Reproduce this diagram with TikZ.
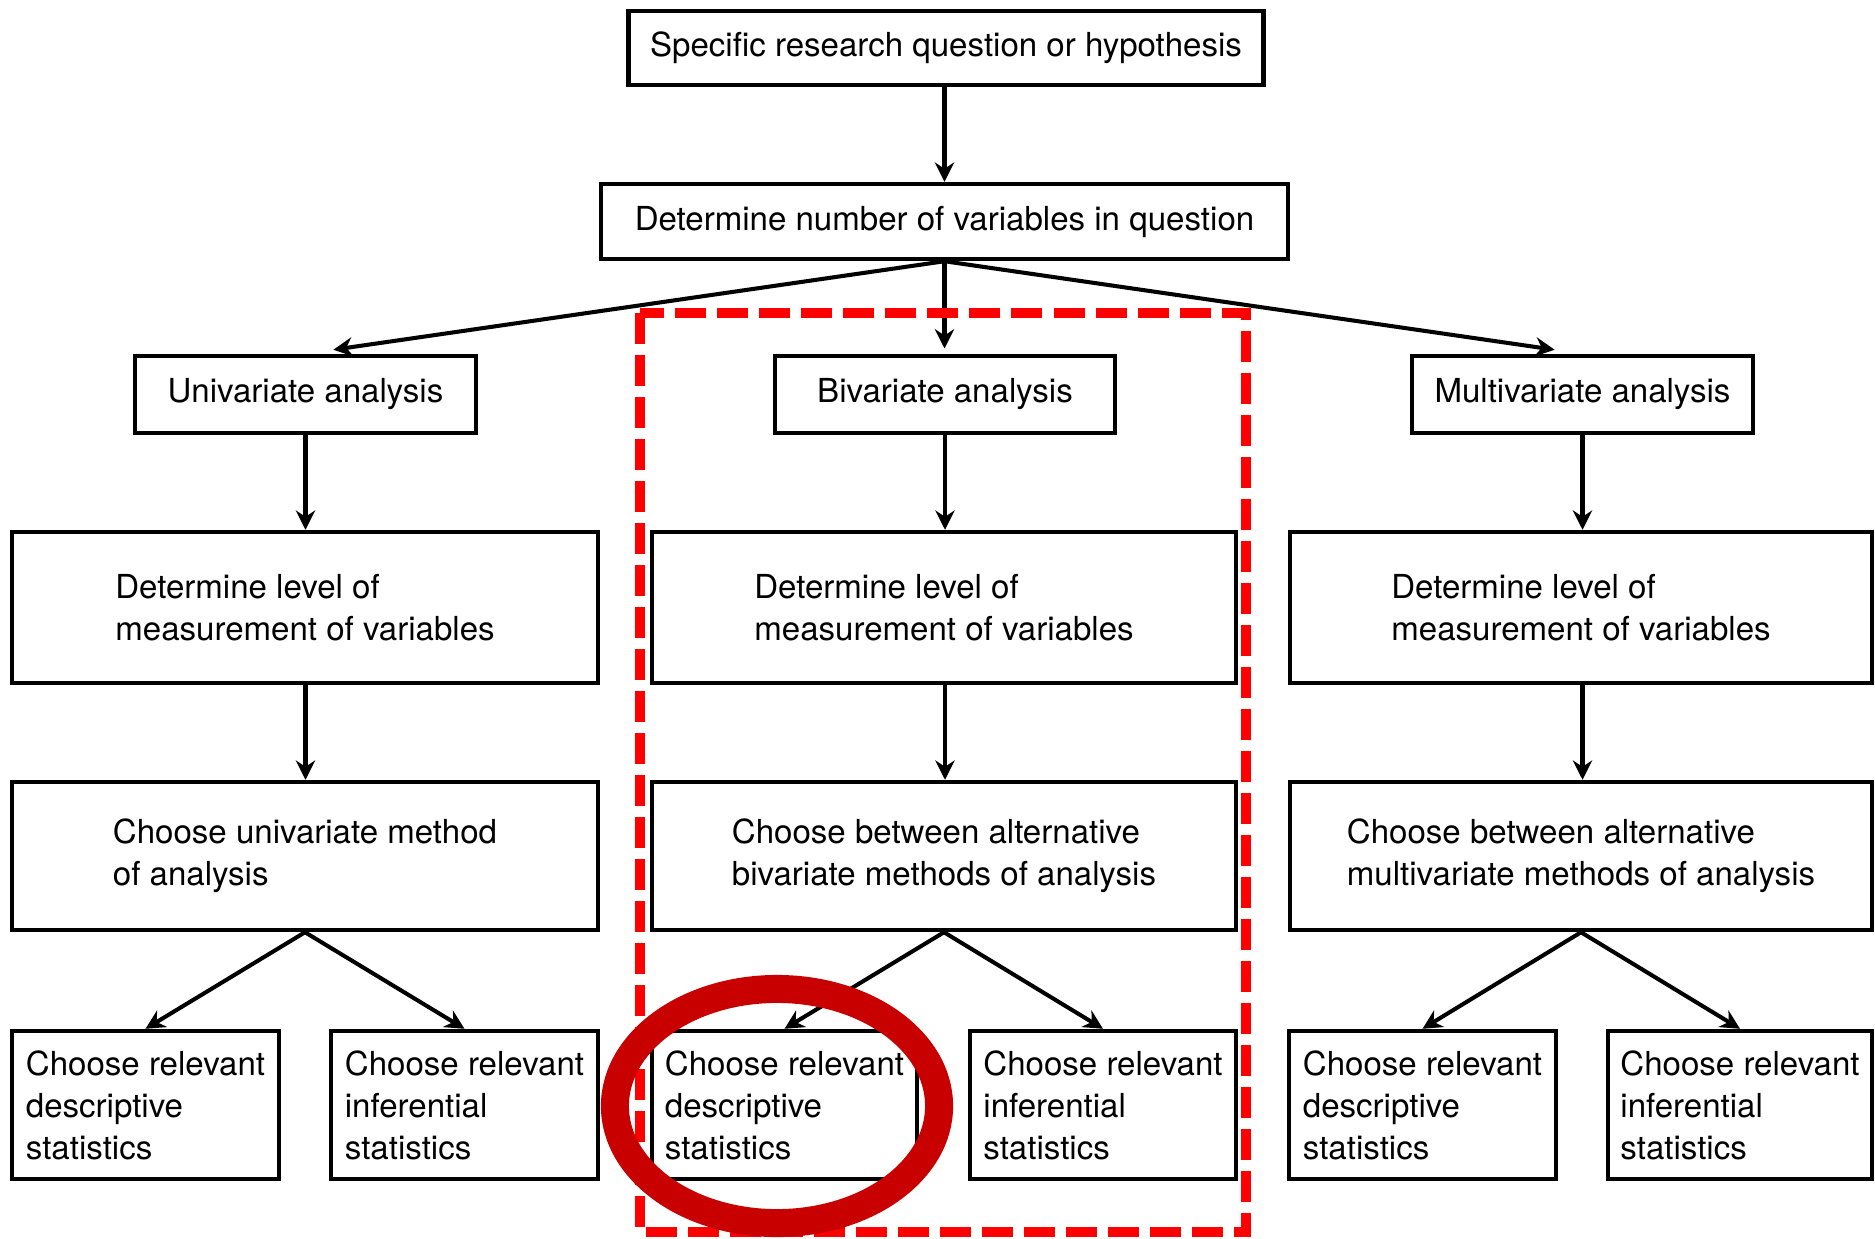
\documentclass[tikz,border=0pt]{standalone}
\usepackage{fontspec}
\setmainfont{TeX Gyre Heros}
\usetikzlibrary{arrows.meta}
\definecolor{dashred}{RGB}{255,0,0}
\definecolor{ringred}{RGB}{200,0,0}
\begin{document}
\begin{tikzpicture}[x=0.01cm,y=-0.01cm,
  every node/.style={font=\fontsize{9.4}{11.95}\selectfont},
  box/.style={draw=black,line width=1.25pt,inner sep=0pt,align=left,fill=white},
  conn/.style={line width=1.15pt,-{Stealth[length=5.5pt,width=5.5pt,inset=1.8pt]}}]
\useasboundingbox (0,0) rectangle (1875,1238);
% top
\node[box,minimum width=6.35cm,minimum height=0.74cm] (q) at (946,48) {Specific research question or hypothesis};
\node[box,minimum width=6.87cm,minimum height=0.75cm] (num) at (944.5,221.5) {Determine number of variables in question};
% analysis types
\node[box,minimum width=3.41cm,minimum height=0.77cm] (uni) at (305.5,394.5) {Univariate analysis};
\node[box,minimum width=3.40cm,minimum height=0.77cm] (bi) at (945,394.5) {Bivariate analysis};
\node[box,minimum width=3.41cm,minimum height=0.77cm] (multi) at (1582.5,394.5) {Multivariate analysis};
% levels
\node[box,minimum width=5.86cm,minimum height=1.51cm] (lvl1) at (305,607.5) {Determine level of\\measurement of variables};
\node[box,minimum width=5.84cm,minimum height=1.51cm] (lvl2) at (944,607.5) {Determine level of\\measurement of variables};
\node[box,minimum width=5.82cm,minimum height=1.51cm] (lvl3) at (1581,607.5) {Determine level of\\measurement of variables};
% methods
\node[box,minimum width=5.86cm,minimum height=1.48cm] (m1) at (305,856) {Choose univariate method\\of analysis};
\node[box,minimum width=5.84cm,minimum height=1.48cm] (m2) at (944,856) {Choose between alternative\\bivariate methods of analysis};
\node[box,minimum width=5.82cm,minimum height=1.48cm] (m3) at (1581,856) {Choose between alternative\\multivariate methods of analysis};
% statistics
\node[box,minimum width=2.67cm,minimum height=1.48cm] (d1) at (145.5,1105) {Choose relevant\\descriptive\\statistics};
\node[box,minimum width=2.67cm,minimum height=1.48cm] (i1) at (464.5,1105) {Choose relevant\\inferential\\statistics};
\node[box,minimum width=2.65cm,minimum height=1.48cm] (d2) at (784.5,1105) {Choose relevant\\descriptive\\statistics};
\node[box,minimum width=2.66cm,minimum height=1.48cm] (i2) at (1103,1105) {Choose relevant\\inferential\\statistics};
\node[box,minimum width=2.67cm,minimum height=1.48cm] (d3) at (1422.5,1105) {Choose relevant\\descriptive\\statistics};
\node[box,minimum width=2.64cm,minimum height=1.48cm] (i3) at (1740,1105) {Choose relevant\\inferential\\statistics};
% connectors
\draw[conn] (num.north |- q.south) -- (num.north);
\draw[conn,shorten >=8pt] (num.south) -- (uni.north);
\draw[conn,shorten >=1.5pt] (num.south) -- (num.south |- bi.north);
\draw[conn,shorten >=8pt] (num.south) -- (multi.north);
\draw[conn] (uni.south) -- (uni.south |- lvl1.north);
\draw[conn] (bi.south) -- (bi.south |- lvl2.north);
\draw[conn] (multi.south) -- (multi.south |- lvl3.north);
\draw[conn] (uni.south |- lvl1.south) -- (uni.south |- m1.north);
\draw[conn] (bi.south |- lvl2.south) -- (bi.south |- m2.north);
\draw[conn] (multi.south |- lvl3.south) -- (multi.south |- m3.north);
\draw[conn] (m1.south) -- (d1.north);
\draw[conn] (m1.south) -- (i1.north);
\draw[conn] (m2.south) -- (d2.north);
\draw[conn] (m2.south) -- (i2.north);
\draw[conn] (m3.south) -- (d3.north);
\draw[conn] (m3.south) -- (i3.north);
% highlights
\draw[dashred,line width=2.6pt,dash pattern=on 0.31cm off 0.11cm] (640,313) rectangle (1246,1232);
\draw[ringred,line width=0.28cm] (777,1106) ellipse [x radius=1.62cm, y radius=1.17cm];
\end{tikzpicture}
\end{document}
